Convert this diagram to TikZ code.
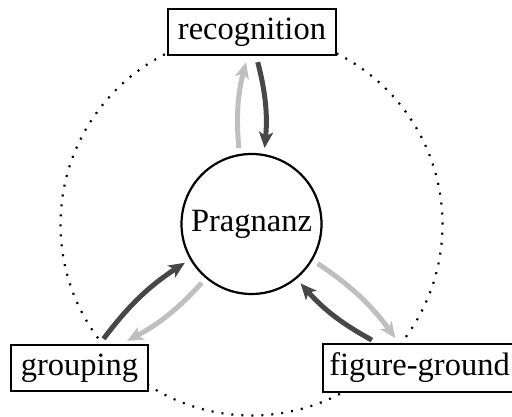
\documentclass[tikz,border=0pt]{standalone}
\usepackage{fontspec}
\setmainfont{Liberation Serif}
\usetikzlibrary{arrows.meta}
\begin{document}
\begin{tikzpicture}[x=1pt,y=1pt,
  box/.style={draw, line width=2.2pt, fill=white, inner xsep=10pt, inner ysep=9pt, font=\fontsize{32.5}{38}\selectfont},
  hub/.style={circle, draw, line width=2.2pt, fill=white, inner sep=6pt, minimum size=140pt, font=\fontsize{32.5}{38}\selectfont},
  flow/.style={line width=5pt, -{Stealth[length=16pt,width=14pt,inset=4pt]}, shorten >=6pt, shorten <=6pt},
  darkflow/.style={flow, draw=black!72},
  lightflow/.style={flow, draw=black!25}]
\useasboundingbox (0,0) rectangle (512,417);
\draw[line width=2.2pt, dash pattern=on 2pt off 8pt] (251.5,192.5) circle (191pt);
\node[hub] (P) at (251.5,193) {Pragnanz};
\node[box] (rec) at (252,385) {recognition};
\node[box] (grp) at (79.5,49) {grouping};
\node[box, inner xsep=6pt] (fg) at (419.5,49) {figure-ground};
\draw[lightflow] (P) to[bend left=10] (rec);
\draw[darkflow] (rec) to[bend left=10] (P);
\draw[darkflow] (grp) to[bend left=10] (P);
\draw[lightflow] (P) to[bend left=10] (grp);
\draw[lightflow] (P) to[bend left=10] (fg);
\draw[darkflow] (fg) to[bend left=10] (P);
\end{tikzpicture}
\end{document}
